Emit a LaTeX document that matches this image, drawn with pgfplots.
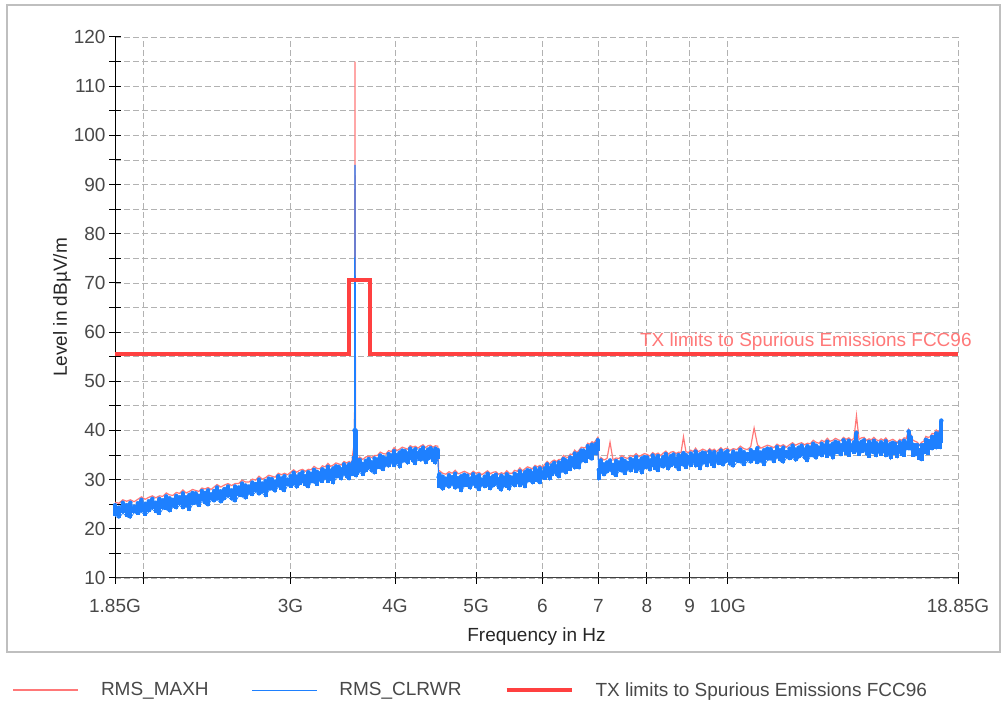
\documentclass[border=0pt]{standalone}
\usepackage{pgfplots}
\pgfplotsset{compat=1.18}
\usepackage{pgfplotstable}
\usepackage{fontspec}
\setmainfont{Liberation Sans}
\definecolor{maxh}{RGB}{255,120,120}
\definecolor{clrwr}{RGB}{30,128,255}
\definecolor{lim}{RGB}{255,64,64}
\definecolor{gridc}{RGB}{178,178,178}
\definecolor{txt}{RGB}{72,72,72}
\definecolor{limtxt}{RGB}{255,120,120}

% f = frequency (GHz), lo/hi = CLRWR trace extremes, r = MAXH trace
\pgfplotstableread{
f lo hi r
1.850 22.6 24.8 25.4
1.870 22.1 24.3 25.2
1.890 23.2 25.3 25.9
1.910 22.5 24.8 25.6
1.930 22.1 25.3 25.9
1.950 23.3 24.5 25.5
1.970 22.9 25.2 26.0
1.990 23.4 25.9 26.5
2.010 22.7 25.1 26.0
2.030 23.4 25.6 26.4
2.050 24.0 26.1 26.7
2.070 23.3 25.3 26.3
2.090 22.9 26.1 26.7
2.110 24.0 25.8 26.6
2.130 23.9 26.6 27.3
2.150 23.4 26.2 26.9
2.170 24.4 25.9 26.8
2.190 24.0 26.7 27.4
2.210 24.8 26.4 27.2
2.230 24.0 27.2 27.9
2.250 24.5 26.4 27.3
2.270 23.7 26.9 27.6
2.290 24.9 27.3 28.0
2.310 25.0 27.2 27.8
2.330 24.5 26.7 27.6
2.350 25.6 27.7 28.3
2.370 25.0 27.3 28.1
2.390 24.6 27.8 28.4
2.410 25.8 27.0 28.0
2.430 25.4 27.7 28.5
2.450 25.9 28.4 29.0
2.475 25.2 27.6 28.5
2.500 25.9 28.1 28.9
2.525 26.5 28.6 29.2
2.550 25.8 27.8 28.8
2.575 25.4 28.6 29.2
2.600 26.6 28.4 29.2
2.625 26.5 29.2 29.9
2.650 26.0 28.8 29.5
2.675 27.1 28.6 29.5
2.700 26.7 29.4 30.1
2.725 27.5 29.1 29.9
2.750 26.8 30.0 30.7
2.775 27.3 29.2 30.1
2.800 26.5 29.7 30.4
2.825 27.8 30.2 30.9
2.850 27.9 30.1 30.7
2.875 27.4 29.6 30.5
2.900 28.6 30.7 31.3
2.925 27.9 30.2 31.0
2.950 27.5 30.7 31.3
2.975 28.8 30.0 31.0
3.000 28.4 30.7 31.5
3.025 28.9 31.4 32.0
3.050 28.2 30.6 31.5
3.075 28.9 31.1 31.9
3.100 29.4 31.5 32.1
3.125 28.7 30.7 31.7
3.150 28.3 31.5 32.1
3.175 29.4 31.2 32.0
3.200 29.3 32.0 32.7
3.225 28.8 31.6 32.3
3.250 29.8 31.3 32.2
3.275 29.4 32.1 32.8
3.300 30.2 31.8 32.6
3.325 29.4 32.6 33.3
3.350 29.9 31.8 32.7
3.375 29.1 32.3 33.0
3.400 30.3 32.7 33.4
3.425 30.4 32.6 33.2
3.450 29.9 32.1 33.0
3.475 31.0 33.1 33.7
3.500 30.3 32.6 33.4
3.525 29.9 33.1 33.7
3.550 31.1 32.3 33.3
3.562 30.8 33.5 35.5
3.572 31.5 34.5 37.0
3.578 32.0 40.0 40.5
3.582 32.0 40.0 115.0
3.587 31.5 40.0 40.0
3.594 30.5 33.0 33.8
3.600 30.9 33.2 34.0
3.630 31.5 34.0 34.6
3.660 30.8 33.2 34.1
3.690 31.6 33.8 34.6
3.720 32.1 34.2 34.8
3.750 31.5 33.5 34.5
3.780 31.1 34.3 34.9
3.810 32.3 34.1 34.9
3.840 32.2 34.9 35.6
3.870 31.8 34.6 35.3
3.900 32.8 34.3 35.2
3.930 32.5 35.2 35.9
3.960 33.3 34.9 35.7
3.990 32.6 35.8 36.5
4.020 33.1 35.0 35.9
4.050 32.3 35.5 36.2
4.080 33.5 35.9 36.6
4.110 33.6 35.8 36.4
4.140 33.1 35.3 36.2
4.170 34.2 36.3 36.9
4.200 33.5 35.8 36.6
4.230 33.0 36.2 36.8
4.260 34.2 35.4 36.4
4.290 33.7 36.0 36.8
4.320 34.0 36.5 37.1
4.350 33.2 35.6 36.5
4.380 33.9 36.1 36.9
4.410 34.3 36.4 37.0
4.440 33.6 35.6 36.6
4.470 33.1 36.3 36.9
4.500 34.2 36.0 36.8
4.510 28.5 30.5 31.8
4.520 28.4 31.1 31.8
4.560 27.8 30.6 31.3
4.600 28.7 30.2 31.1
4.640 28.2 30.9 31.6
4.680 28.9 30.5 31.3
4.720 28.0 31.2 31.9
4.760 28.4 30.3 31.2
4.800 27.5 30.7 31.4
4.840 28.6 31.0 31.7
4.880 28.6 30.8 31.4
4.920 28.0 30.2 31.1
4.960 29.0 31.1 31.7
5.000 28.2 30.5 31.3
5.040 27.7 30.9 31.5
5.080 28.8 30.0 31.0
5.120 28.3 30.6 31.4
5.160 28.7 31.2 31.8
5.200 27.9 30.3 31.2
5.240 28.5 30.7 31.5
5.280 28.9 31.0 31.6
5.320 28.1 30.1 31.1
5.360 27.6 30.8 31.4
5.400 28.6 30.4 31.2
5.440 28.4 31.1 31.8
5.480 27.8 30.6 31.3
5.520 28.9 30.4 31.3
5.560 28.5 31.2 31.9
5.600 29.3 30.9 31.7
5.640 28.5 31.7 32.4
5.680 29.0 30.9 31.8
5.720 28.3 31.5 32.2
5.760 29.5 31.9 32.6
5.800 29.6 31.8 32.4
5.840 29.1 31.3 32.2
5.880 30.2 32.3 32.9
5.920 29.5 31.8 32.6
5.960 29.1 32.3 32.9
6.000 30.3 31.5 32.5
6.040 30.0 32.3 33.1
6.080 30.6 33.1 33.7
6.120 29.9 32.3 33.2
6.160 30.7 32.9 33.7
6.200 31.3 33.4 34.0
6.240 30.7 32.7 33.7
6.280 30.3 33.5 34.1
6.320 31.5 33.3 34.1
6.360 31.5 34.2 34.9
6.400 31.1 33.9 34.6
6.440 32.1 33.6 34.5
6.480 31.8 34.5 35.2
6.520 32.7 34.3 35.1
6.560 32.1 35.3 36.0
6.600 32.7 34.6 35.5
6.640 32.1 35.3 36.0
6.680 33.5 35.9 36.6
6.720 33.7 35.9 36.5
6.760 33.4 35.6 36.5
6.800 34.7 36.8 37.4
6.840 34.1 36.4 37.2
6.880 33.9 37.1 37.7
6.920 35.3 36.5 37.5
6.960 35.0 37.3 38.1
6.990 35.8 38.0 38.6
7.010 30.0 32.0 33.0
7.050 31.4 33.9 34.5
7.110 30.7 33.1 34.0
7.170 31.3 33.5 34.3
7.230 31.8 33.9 37.6
7.290 31.0 33.0 34.0
7.350 30.6 33.8 34.4
7.410 31.7 33.5 34.3
7.470 31.5 34.2 34.9
7.530 31.0 33.8 34.5
7.590 31.9 33.4 34.3
7.650 31.5 34.2 34.9
7.710 32.3 33.9 34.7
7.770 31.4 34.6 35.3
7.830 31.9 33.8 34.7
7.890 31.1 34.3 35.0
7.950 32.2 34.6 35.3
8.010 32.3 34.5 35.1
8.070 31.7 33.9 34.8
8.130 32.8 34.9 35.5
8.190 32.0 34.3 35.1
8.250 31.6 34.8 35.4
8.310 32.7 33.9 34.9
8.370 32.3 34.6 35.4
8.430 32.7 35.2 35.8
8.490 31.9 34.3 35.2
8.550 32.6 34.8 35.6
8.610 33.0 35.1 35.7
8.670 32.3 34.3 35.3
8.730 31.8 35.0 35.6
8.790 32.9 34.7 35.5
8.850 32.7 35.4 38.7
8.910 32.2 35.0 35.7
8.970 33.1 34.6 35.5
9.030 32.6 35.3 36.0
9.090 33.3 34.9 35.7
9.150 32.5 35.7 36.4
9.210 32.9 34.8 35.7
9.270 32.0 35.2 35.9
9.330 33.1 35.5 36.2
9.390 33.2 35.4 36.0
9.450 32.6 34.8 35.7
9.510 33.6 35.7 36.3
9.570 32.8 35.1 35.9
9.630 32.4 35.6 36.2
9.690 33.5 34.7 35.7
9.750 33.0 35.3 36.1
9.810 33.4 35.9 36.5
9.870 32.7 35.1 36.0
9.930 33.3 35.5 36.3
9.990 33.7 35.8 36.4
10.05 32.9 34.9 35.9
10.15 32.5 35.7 36.3
10.25 33.5 35.3 36.1
10.35 33.4 36.1 36.8
10.45 32.8 35.6 36.3
10.55 33.7 35.2 36.1
10.65 33.3 36.0 36.7
10.75 34.0 35.6 40.5
10.85 33.2 36.4 37.1
10.95 33.6 35.5 36.4
11.05 32.8 36.0 36.7
11.15 33.9 36.3 37.0
11.25 34.0 36.2 36.8
11.35 33.4 35.6 36.5
11.45 34.5 36.6 37.2
11.55 33.7 36.0 36.8
11.65 33.3 36.5 37.1
11.75 34.4 35.6 36.6
11.85 34.0 36.3 37.1
11.95 34.4 36.9 37.5
12.05 33.7 36.1 37.0
12.15 34.3 36.5 37.3
12.25 34.8 36.9 37.5
12.35 34.1 36.1 37.1
12.45 33.6 36.8 37.4
12.55 34.7 36.5 37.3
12.65 34.6 37.3 38.0
12.75 34.1 36.9 37.6
12.85 35.0 36.5 37.4
12.95 34.6 37.3 38.0
13.05 35.3 36.9 37.7
13.15 34.5 37.7 38.4
13.25 35.0 36.9 37.8
13.35 34.1 37.3 38.0
13.45 35.3 37.7 38.4
13.55 35.3 37.5 38.1
13.65 34.8 37.0 37.9
13.75 35.9 38.0 38.6
13.85 35.1 37.4 38.2
13.95 34.7 37.9 38.5
14.05 35.8 37.0 38.0
14.15 35.3 37.6 38.4
14.25 35.7 39.5 43.0
14.35 34.9 37.3 38.2
14.45 35.5 37.7 38.5
14.55 35.9 38.0 38.6
14.65 35.0 37.0 38.0
14.75 34.5 37.7 38.3
14.85 35.5 37.3 38.1
14.95 35.2 37.9 38.6
15.05 34.6 37.4 38.1
15.15 35.5 37.0 37.9
15.25 34.9 37.6 38.3
15.35 35.6 37.2 38.0
15.45 34.6 37.8 38.5
15.55 35.0 36.9 37.8
15.65 34.1 37.3 38.0
15.75 35.1 37.5 38.2
15.85 35.1 37.3 37.9
15.95 34.4 36.6 37.5
16.05 35.5 37.6 38.2
16.15 34.9 37.2 38.0
16.25 34.7 37.9 38.5
16.35 36.2 37.4 38.4
16.45 36.0 39.8 40.2
16.55 36.1 38.6 39.2
16.65 34.7 37.1 38.0
16.75 34.8 37.0 37.8
16.85 34.9 37.0 37.6
16.95 34.0 36.0 37.0
17.05 33.8 37.0 37.6
17.15 35.2 37.0 37.8
17.25 35.4 38.1 38.8
17.35 35.1 37.9 38.6
17.45 36.3 37.8 38.7
17.55 36.0 38.7 39.4
17.65 36.9 38.5 39.3
17.75 36.2 39.4 40.1
17.85 36.9 38.8 39.7
17.95 36.3 39.5 40.2
18.00 37.5 42.0 42.3
}\spec

\pgfplotstableread{
f l
1.85 55.5
3.52 55.5
3.52 70.5
3.73 70.5
3.73 55.5
18.85 55.5
}\limit

\begin{document}
\begin{tikzpicture}[x=1pt,y=1pt]
\useasboundingbox (0,0) rectangle (1004,709);
\draw[black!25, line width=1.5pt] (7,57) rectangle (1000,704);
\begin{axis}[
  at={(115pt,131pt)}, anchor=south west,
  scale only axis, width=843pt, height=541pt,
  xmode=log, xmin=1.85, xmax=18.85, ymin=10, ymax=120,
  clip=false,
  axis lines*=left,
  axis line style={-, line width=1pt},
  x axis line style={draw=black!75},
  y axis line style={draw=black},
  tick align=center,
  major tick length=12pt, minor tick length=12pt,
  tick style={line width=1pt, black},
  xtick={1.85,2,3,4,5,6,7,8,9,10,18.85},
  xticklabels={1.85G,,3G,4G,5G,6,7,8,9,10G,18.85G},
  minor xtick={},
  ytick={10,20,...,120},
  minor ytick={15,25,...,115},
  xmajorgrids, ymajorgrids, yminorgrids,
  major grid style={gridc, line width=0.8pt, dash pattern=on 6pt off 3pt},
  minor grid style={gridc, line width=0.8pt, dash pattern=on 6pt off 3pt},
  /pgf/number format/assume math mode=true,
  ticklabel style={font=\fontsize{19}{21}\selectfont, text=txt},
  xticklabel style={yshift=-12pt},
  xlabel={Frequency in Hz},
  xlabel style={at={(axis description cs:0.5,-0.109)}, anchor=center, font=\fontsize{19}{21}\selectfont, text=black!85},
  ylabel={Level in dBµV/m},
  ylabel style={at={(axis description cs:-0.0629,0.5)}, anchor=center, font=\fontsize{19}{21}\selectfont, text=black!85},
  legend columns=3,
  legend style={at={(axis description cs:-0.125,-0.207)}, anchor=west, draw=none, fill=none,
    font=\fontsize{19}{21}\selectfont,
    /tikz/every odd column/.append style={column sep=20pt},
    /tikz/every even column/.append style={column sep=41pt},
    nodes={text=txt}},
  legend image code/.code={\draw[#1] (0pt,0pt) -- (65pt,0pt);},
]
\addplot[maxh, line width=1.2pt] table[x=f, y=r] {\spec};
\addlegendentry{RMS\_MAXH}
\addplot[clrwr, only marks, mark=none, forget plot,
  error bars/.cd, y dir=minus, y explicit,
  error bar style={draw=clrwr, line width=4pt}, error mark=none]
  table[x=f, y=hi, y error minus expr=\thisrow{hi}-\thisrow{lo}] {\spec};
\addplot[clrwr, line width=0.7pt] table[x=f, y=hi] {\spec};
\addlegendentry{RMS\_CLRWR}
\addplot[clrwr, line width=0.7pt, forget plot] table[x=f, y=lo] {\spec};
\addplot[clrwr, line width=1.2pt, forget plot] coordinates {(3.578,40) (3.582,94) (3.586,40)};
\addplot[lim, line width=4pt] table[x=f, y=l] {\limit};
\addlegendentry{TX limits to Spurious Emissions FCC96}

\node[anchor=south west, inner sep=0pt, text=limtxt, font=\fontsize{19}{21}\selectfont, yshift=4pt] at (axis cs:7.85,55.5) {TX limits to Spurious Emissions FCC96};
\end{axis}
\end{tikzpicture}
\end{document}
